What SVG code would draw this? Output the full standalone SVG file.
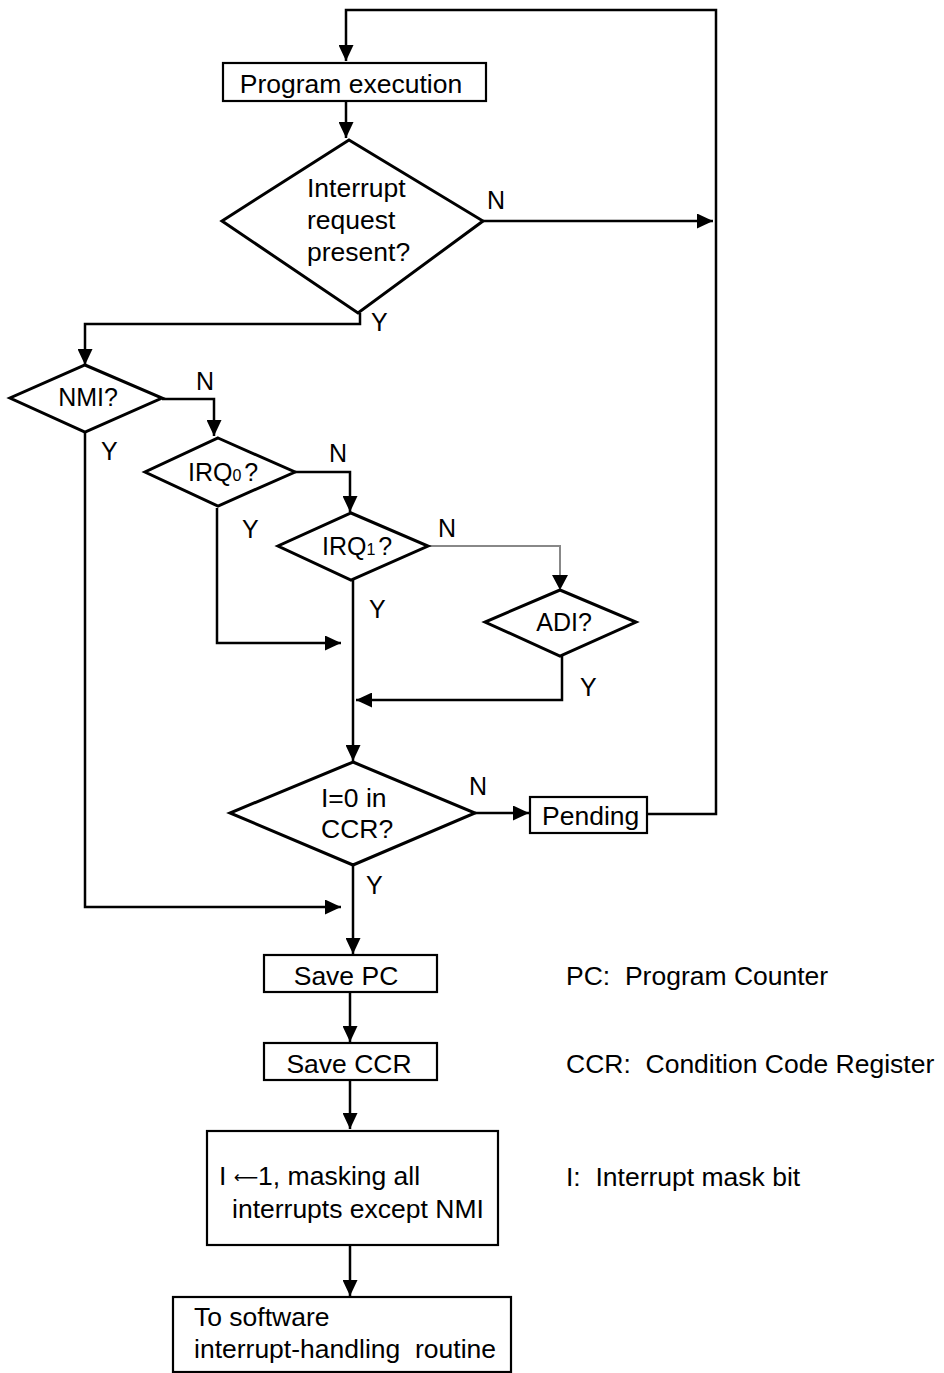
<svg xmlns="http://www.w3.org/2000/svg" width="944" height="1373" viewBox="0 0 944 1373">
<style>
.box{fill:#fff;stroke:#000;stroke-width:2.2}
.dia{fill:#fff;stroke:#000;stroke-width:3}
.ln{fill:none;stroke:#000;stroke-width:2.5}
.gr{fill:none;stroke:#888;stroke-width:2}
text{font-family:"Liberation Sans",Arial,sans-serif;font-size:26.5px;fill:#000}
.s{font-size:25px}
.yn{font-size:25px}
.c{text-anchor:middle}
</style>
<defs>
<marker id="ah" markerUnits="userSpaceOnUse" markerWidth="17" markerHeight="15" refX="16" refY="7.5" orient="auto">
<path d="M0,0 L16,7.5 L0,15 Z" fill="#000"/>
</marker>
</defs>
<rect width="944" height="1373" fill="#fff"/>
<g id="connectors">
<path class="ln" d="M648,814 H716 V10 H346 V61" marker-end="url(#ah)"/>
<path class="ln" d="M346,101 V138" marker-end="url(#ah)"/>
<path class="ln" d="M483,221 H713" marker-end="url(#ah)"/>
<path class="ln" d="M360,313 V324 H85 V365" marker-end="url(#ah)"/>
<path class="ln" d="M162,399 H214 V436" marker-end="url(#ah)"/>
<path class="ln" d="M85,432 V907 H341" marker-end="url(#ah)"/>
<path class="ln" d="M295,472 H350 V512" marker-end="url(#ah)"/>
<path class="ln" d="M217,508 V643 H341" marker-end="url(#ah)"/>
<path class="gr" d="M428,546 H560 V575"/>
<path d="M552,575 L560,590 L568,575 Z" fill="#000"/>
<path class="ln" d="M562,656 V700 H356" marker-end="url(#ah)"/>
<path class="ln" d="M353,580 V761" marker-end="url(#ah)"/>
<path class="ln" d="M475,813 H529" marker-end="url(#ah)"/>
<path class="ln" d="M353,865 V954" marker-end="url(#ah)"/>
<path class="ln" d="M350,992 V1042" marker-end="url(#ah)"/>
<path class="ln" d="M350,1080 V1129" marker-end="url(#ah)"/>
<path class="ln" d="M350,1246 V1296" marker-end="url(#ah)"/>
</g>
<g id="prog"><rect class="box" x="223" y="63" width="263" height="38"/><text class="c" x="351" y="93">Program execution</text></g>
<g id="irq"><path class="dia" d="M349,140 L483,221 L358,313 L222,221 Z"/>
<text x="307" y="197">Interrupt</text><text x="307" y="229">request</text><text x="307" y="261">present?</text></g>
<text class="yn" x="487" y="209">N</text><text class="yn" x="371" y="331">Y</text>
<g id="nmi"><path class="dia" d="M85,365 L162,398 L85,432 L10,398 Z"/><text class="s c" x="88" y="406">NMI?</text></g>
<text class="yn" x="196" y="390">N</text><text class="yn" x="101" y="460">Y</text>
<g id="irq0"><path class="dia" d="M218,438 L295,472 L218,506 L145,472 Z"/><text class="s" x="188" y="481">IRQ<tspan font-size="16">0</tspan><tspan dx="3">?</tspan></text></g>
<text class="yn" x="329" y="462">N</text><text class="yn" x="242" y="538">Y</text>
<g id="irq1"><path class="dia" d="M351,513 L428,546 L351,580 L278,546 Z"/><text class="s" x="322" y="555">IRQ<tspan font-size="16">1</tspan><tspan dx="3">?</tspan></text></g>
<text class="yn" x="438" y="537">N</text><text class="yn" x="369" y="618">Y</text>
<g id="adi"><path class="dia" d="M560,590 L636,622 L560,656 L485,622 Z"/><text class="s c" x="564" y="631">ADI?</text></g>
<text class="yn" x="580" y="696">Y</text>
<g id="ccr"><path class="dia" d="M353,762 L475,813 L353,865 L230,813 Z"/>
<text x="321" y="807">I=0 in</text><text x="321" y="838">CCR?</text></g>
<text class="yn" x="469" y="795">N</text><text class="yn" x="366" y="894">Y</text>
<g id="pending"><rect class="box" x="530" y="797" width="117" height="36"/><text x="542" y="825">Pending</text></g>
<g id="savepc"><rect class="box" x="264" y="955" width="173" height="37"/><text class="c" x="346" y="985">Save PC</text></g>
<g id="saveccr"><rect class="box" x="264" y="1043" width="173" height="37"/><text class="c" x="349" y="1073">Save CCR</text></g>
<g id="mask"><rect class="box" x="207" y="1131" width="291" height="114"/>
<text x="219" y="1185">I <tspan font-family="'DejaVu Sans',sans-serif" font-size="17" dy="-2">⟵</tspan><tspan dy="2">1, masking all</tspan></text><text x="232" y="1218">interrupts except NMI</text></g>
<g id="sw"><rect class="box" x="173" y="1297" width="338" height="75"/>
<text x="194" y="1326">To software</text><text x="194" y="1358" xml:space="preserve">interrupt-handling  routine</text></g>
<g id="notes">
<text x="566" y="985" xml:space="preserve">PC:  Program Counter</text>
<text x="566" y="1073" xml:space="preserve">CCR:  Condition Code Register</text>
<text x="566" y="1186" xml:space="preserve">I:  Interrupt mask bit</text>
</g>
</svg>
